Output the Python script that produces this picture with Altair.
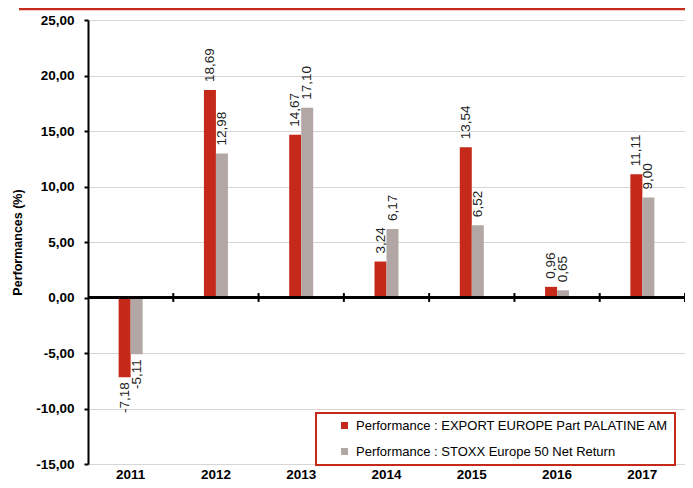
import altair as alt
import pandas as pd

years = ["2011", "2012", "2013", "2014", "2015", "2016", "2017"]
fund = [-7.18, 18.69, 14.67, 3.24, 13.54, 0.96, 11.11]
bench = [-5.11, 12.98, 17.10, 6.17, 6.52, 0.65, 9.00]
s1 = "Performance : EXPORT EUROPE Part PALATINE AM"
s2 = "Performance : STOXX Europe 50 Net Return"
series = [s1, s2]
colors = ["#C4291A", "#B3A7A5"]
y_ticks = [-15, -10, -5, 0, 5, 10, 15, 20, 25]

rows = []
for i, y in enumerate(years):
    rows.append({"year": y, "series": s1, "value": fund[i], "label": f"{fund[i]:.2f}".replace(".", ",")})
    rows.append({"year": y, "series": s2, "value": bench[i], "label": f"{bench[i]:.2f}".replace(".", ",")})
df = pd.DataFrame(rows)
yr = pd.DataFrame({"year": years})

FONT = "Liberation Sans"
W, H = 597, 444
band = W / len(years)

xenc = alt.X("year:N", sort=years, title=None,
             scale=alt.Scale(paddingInner=0, paddingOuter=0),
             axis=alt.Axis(labelAngle=0, domain=False, ticks=False, grid=False,
                           labelFont=FONT, labelFontSize=13.5, labelFontWeight="bold",
                           labelColor="black", labelPadding=3))
xoff = alt.XOffset("series:N", sort=series,
                   scale=alt.Scale(range=[band / 2 - 12, band / 2 + 12], paddingOuter=0, paddingInner=0))
yenc = alt.Y("value:Q", title="Performances (%)",
             scale=alt.Scale(domain=[-15, 25], nice=False),
             axis=alt.Axis(values=y_ticks,
                           labelExpr="(datum.value < 0 ? '-' : '') + replace(format(abs(datum.value), '.2f'), '.', ',')",
                           labelFont=FONT, labelFontSize=13.5, labelFontWeight="bold",
                           labelColor="black", labelPadding=10,
                           domainColor="black", domainWidth=2,
                           tickColor="black", tickWidth=2, tickSize=4,
                           gridColor="#D6D6D6", gridWidth=1,
                           titleFont=FONT, titleFontSize=12.5, titleFontWeight="bold",
                           titleColor="black", titlePadding=11))

base = alt.Chart(df)

bars = base.mark_bar().encode(
    x=xenc, xOffset=xoff, y=yenc,
    color=alt.Color("series:N", sort=series, title=None,
                    scale=alt.Scale(domain=series, range=colors),
                    legend=alt.Legend(orient="none", legendX=228, legendY=393,
                                      symbolType="square", symbolSize=49,
                                      symbolOffset=16, labelOffset=5,
                                      labelFont=FONT, labelFontSize=13, labelColor="black",
                                      labelLimit=500, rowPadding=12, padding=6,
                                      fillColor="white", strokeColor="#C4291A")),
)

pos = base.transform_filter("datum.value >= 0").mark_text(
    angle=270, align="left", baseline="middle", dx=8,
    font=FONT, fontSize=13.5, color="#222222").encode(
    x=alt.X("year:N", sort=years), xOffset=alt.XOffset("series:N", sort=series), y="value:Q",
    text="label:N")

neg = base.transform_filter("datum.value < 0").mark_text(
    angle=270, align="right", baseline="middle", dx=-5,
    font=FONT, fontSize=13.5, color="#222222").encode(
    x=alt.X("year:N", sort=years), xOffset=alt.XOffset("series:N", sort=series), y="value:Q",
    text="label:N")

zero = alt.Chart(yr).mark_rule(color="black", strokeWidth=2).encode(y=alt.datum(0))

ticks = alt.Chart(yr).mark_rule(color="black", strokeWidth=2).encode(
    x=alt.X("year:N", sort=years, bandPosition=1),
    y=alt.datum(-0.4), y2=alt.datum(0.4))

topline = alt.Chart(pd.DataFrame({"a": [0]})).mark_rule(color="#C4291A", strokeWidth=2.5).encode(
    x=alt.value(-69), x2=alt.value(W + 5), y=alt.value(-11))

chart = alt.layer(bars, zero, ticks, pos, neg, topline).properties(
    width=W, height=H,
    autosize=alt.AutoSizeParams(type="none"),
    padding={"left": 80, "top": 12, "right": 0, "bottom": 16},
).configure_view(stroke=None).configure_legend(strokeWidth=2)

chart.save("out.html", embed_options={"renderer": "svg", "actions": False})
